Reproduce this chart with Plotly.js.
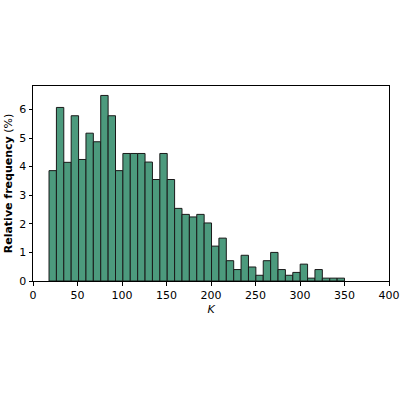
<!DOCTYPE html>
<html lang="en">
<head>
    <meta charset="UTF-8">
    <title>K histogram</title>
    <script src="https://cdn.plot.ly/plotly-3.0.1.min.js"></script>
    <style>
        body { margin: 0; }
    </style>
</head>

<body>

<div id="plot"></div>

<script>

    // histogram of K, 40 bins, relative frequency in %
    const binStart = 18
    const binWidth = 8.3
    const freq = [3.86, 6.07, 4.15, 5.78, 4.25, 5.17, 4.87, 6.49, 5.78, 3.86,
                  4.46, 4.46, 4.46, 4.16, 3.55, 4.46, 3.55, 2.54, 2.33, 2.24,
                  2.33, 2.03, 1.22, 1.50, 0.71, 0.40, 0.90, 0.49, 0.20, 0.71,
                  1.00, 0.40, 0.20, 0.30, 0.59, 0.10, 0.40, 0.10, 0.10, 0.10]
    const xTicks = [0, 50, 100, 150, 200, 250, 300, 350, 400]
    const yTicks = [0, 1, 2, 3, 4, 5, 6]

    const centers = freq.map((f, i) => binStart + binWidth * (i + 0.5))

    const data = [{
        x: centers,
        y: freq,
        type: 'bar',
        width: binWidth,
        marker: {color: '#4c9a7d', line: {color: '#1a1a1a', width: 1}},
        hoverinfo: 'none'
    }]

    const axisStyle = {
        showline: true,
        linecolor: 'black',
        linewidth: 1,
        mirror: true,
        ticks: 'outside',
        ticklen: 3.5,
        tickcolor: 'black',
        showgrid: false,
        zeroline: false,
        tickfont: {family: 'DejaVu Sans', size: 11, color: 'black'}
    }

    const layout = {
        width: 400,
        height: 400,
        margin: {l: 33, r: 11, t: 86, b: 119},
        paper_bgcolor: 'white',
        plot_bgcolor: 'white',
        showlegend: false,
        bargap: 0,
        xaxis: Object.assign({}, axisStyle, {
            range: [0, 400],
            tickvals: xTicks,
            title: {text: '<i>K</i>', font: {family: 'DejaVu Sans', size: 11, color: 'black'}, standoff: 4}
        }),
        yaxis: Object.assign({}, axisStyle, {
            range: [0, 6.82],
            tickvals: yTicks,
            title: {text: '<b>Relative frequency</b> (%)', font: {family: 'DejaVu Sans', size: 11, color: 'black'}, standoff: 4}
        })
    }

    Plotly.newPlot('plot', data, layout, {displayModeBar: false, staticPlot: true})

</script>
</body>
</html>
